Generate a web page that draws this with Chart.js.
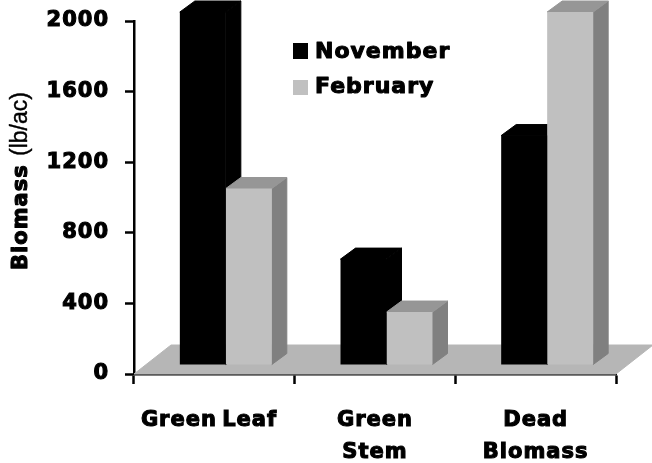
<!DOCTYPE html>
<html>
<head>
<meta charset="utf-8">
<style>
  html, body { margin: 0; padding: 0; background: #fff; }
  canvas { display: block; }
</style>
<script src="https://cdn.jsdelivr.net/npm/chart.js@4.4.0/dist/chart.umd.min.js"></script>
</head>
<body>
<canvas id="biomassChart" width="652" height="463"></canvas>
<script>
const categories = [['Green Leaf'], ['Green', 'Stem'], ['Dead', 'Biomass']];
const november = [2000, 600, 1300];
const february = [1000, 300, 2000];
const seriesNames = ['November', 'February'];
const yTicks = [0, 400, 800, 1200, 1600, 2000];

const INK = '#000';
const FRONT = ['#000000', '#c0c0c0'];
const SIDE = ['#000000', '#808080'];
const TOP = ['#000000', '#969696'];
const FLOOR = '#b6b6b6';
const HEAVY = '"DejaVu Sans", sans-serif';
const PLAIN = '"Liberation Sans", Arial, sans-serif';
const TEXT_STROKE = 1.1;

// bars sit behind the axis plane, the depth of a box is DEPTH_X / DEPTH_Y
const SHIFT_X = 11.5, SHIFT_Y = -9;
const DEPTH_X = 15, DEPTH_Y = -11;
const FLOOR_X = 37, FLOOR_Y = -29;

function poly(ctx, pts, color) {
  ctx.fillStyle = color;
  ctx.strokeStyle = color;
  ctx.lineWidth = 1;
  ctx.beginPath();
  pts.forEach(([x, y], i) => i ? ctx.lineTo(x, y) : ctx.moveTo(x, y));
  ctx.closePath();
  ctx.fill();
  ctx.stroke();
}

function heavyText(ctx, text, x, y, stroke) {
  ctx.fillStyle = INK;
  ctx.strokeStyle = INK;
  ctx.lineWidth = stroke;
  ctx.lineJoin = 'round';
  ctx.strokeText(text, x, y);
  ctx.fillText(text, x, y);
}

const boxes = {
  id: 'boxes',
  beforeDraw(chart) {
    chart.ctx.letterSpacing = '1px';
    chart.ctx.wordSpacing = '-3px';
  },
  beforeDatasetsDraw(chart) {
    const { ctx, scales: { x, y } } = chart;
    const y0 = y.getPixelForValue(0);

    poly(ctx, [
      [x.left, y0],
      [x.right, y0],
      [x.right + FLOOR_X, y0 + FLOOR_Y],
      [x.left + FLOOR_X, y0 + FLOOR_Y]
    ], FLOOR);

    ctx.save();
    ctx.translate(SHIFT_X, SHIFT_Y);

    // tops and sides first, the fronts always cover them
    [0, 1].forEach(d => {
      chart.getDatasetMeta(d).data.forEach(bar => {
        const l = bar.x - bar.width / 2, r = bar.x + bar.width / 2;
        poly(ctx, [
          [r, bar.y], [r + DEPTH_X, bar.y + DEPTH_Y],
          [r + DEPTH_X, bar.base + DEPTH_Y], [r, bar.base]
        ], SIDE[d]);
        poly(ctx, [
          [l, bar.y], [r, bar.y],
          [r + DEPTH_X, bar.y + DEPTH_Y], [l + DEPTH_X, bar.y + DEPTH_Y]
        ], TOP[d]);
      });
    });
  },
  afterDatasetsDraw(chart) {
    const { ctx } = chart;
    ctx.restore();

    // y axis title, the unit is set lighter
    ctx.save();
    ctx.translate(27, 270);
    ctx.rotate(-Math.PI / 2);
    ctx.textBaseline = 'alphabetic';
    ctx.textAlign = 'left';
    ctx.font = `bold 21px ${HEAVY}`;
    heavyText(ctx, 'Biomass', 0, 0, TEXT_STROKE);
    ctx.letterSpacing = '0px';
    ctx.font = `23px ${PLAIN}`;
    heavyText(ctx, '(lb/ac)', 114, 0, 0.4);
    ctx.restore();

    // legend
    ctx.save();
    ctx.textBaseline = 'alphabetic';
    ctx.textAlign = 'left';
    const rows = [[43, 16, 58], [80, 15, 93]];
    seriesNames.forEach((name, i) => {
      const [top, h, base] = rows[i];
      ctx.fillStyle = FRONT[i];
      ctx.fillRect(293, top, 15, h);
      ctx.font = `bold 22px ${HEAVY}`;
      heavyText(ctx, name, 315, base, TEXT_STROKE);
    });
    ctx.restore();
  }
};

new Chart(document.getElementById('biomassChart'), {
  type: 'bar',
  plugins: [boxes],
  data: {
    labels: categories,
    datasets: [
      { label: seriesNames[0], data: november, backgroundColor: FRONT[0], clip: false },
      { label: seriesNames[1], data: february, backgroundColor: FRONT[1], clip: false }
    ]
  },
  options: {
    responsive: false,
    animation: false,
    layout: { padding: { top: 21, right: 36, left: 0, bottom: 0 } },
    categoryPercentage: 0.5725,
    barPercentage: 1,
    plugins: { legend: { display: false }, tooltip: { enabled: false } },
    scales: {
      x: {
        z: 1,
        grid: { drawOnChartArea: false, tickLength: 10, tickColor: INK, tickWidth: 2.5 },
        border: { color: INK, width: 2.5 },
        ticks: {
          color: INK,
          maxRotation: 0,
          autoSkip: false,
          padding: 21,
          textStrokeColor: INK,
          textStrokeWidth: TEXT_STROKE,
          // the first label sits a little left of its tick
          callback(v, i) {
            const label = this.getLabelForValue(v);
            return i === 0 ? [label[0] + '  '] : label;
          },
          font: { family: HEAVY, size: 21, weight: 'bold', lineHeight: 1.52 }
        },
        afterFit: s => { s.height = 89; s.paddingLeft = 0; s.paddingRight = 0; }
      },
      y: {
        z: 1,
        min: 0,
        max: 2000,
        afterBuildTicks: s => { s.ticks = yTicks.map(value => ({ value })); },
        grid: { drawOnChartArea: false, tickLength: 9, tickColor: INK, tickWidth: 2.5 },
        border: { color: INK, width: 2.5 },
        ticks: {
          color: INK,
          padding: 16,
          textStrokeColor: INK,
          textStrokeWidth: TEXT_STROKE,
          callback: v => String(v),
          font: { family: HEAVY, size: 21, weight: 'bold' }
        },
        afterFit: s => { s.width = 134; s.paddingTop = 0; s.paddingBottom = 0; }
      }
    }
  }
});
</script>
</body>
</html>
